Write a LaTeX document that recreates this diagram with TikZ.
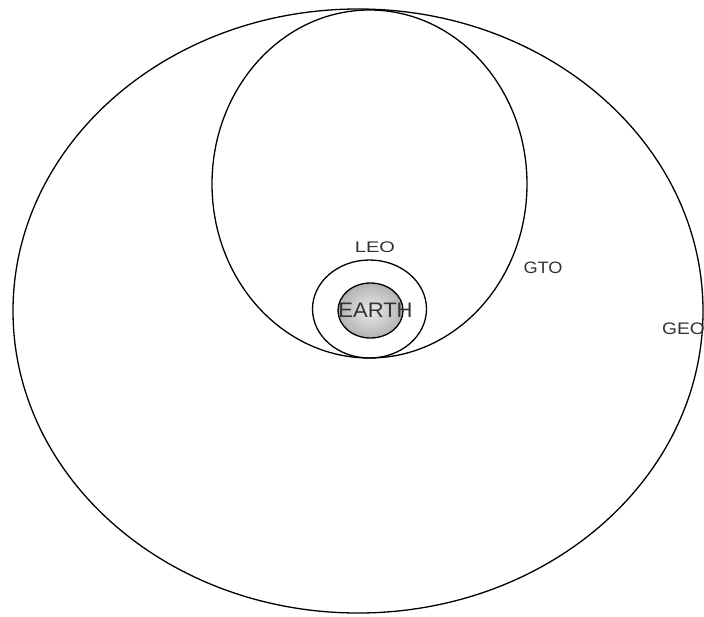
\documentclass[tikz,border=0pt]{standalone}
\usepackage{fontspec}
\setmainfont{Liberation Sans}
\usetikzlibrary{shapes.geometric}
\begin{document}
\begin{tikzpicture}[x=1pt,y=-1pt,
  orbit/.style={ellipse,draw=black,line width=1.3pt,inner sep=0pt,fill=none},
  lbl/.style={text=black!80,inner sep=0pt}]
\useasboundingbox (0,0) rectangle (704,616);
\clip (0,0) rectangle (704,616);
\fill[white] (0,0) rectangle (704,616);
\node[orbit,minimum width=690pt,minimum height=604pt] (geo) at (358,311) {};
\node[orbit,minimum width=315pt,minimum height=348pt] (gto) at (369.5,184) {};
\node[orbit,minimum width=114pt,minimum height=98pt] (leo) at (369.5,309) {};
\node[orbit,minimum width=65pt,minimum height=55pt,inner color=black!8,outer color=black!30] (earth) at (370.5,310.5) {};
\node[lbl,font=\fontsize{21}{21}\selectfont,xscale=1.05] (earthlbl) at (375.5,310.5) {EARTH};
\node[lbl,font=\fontsize{15.4}{15.4}\selectfont,xscale=1.3] (leolbl) at (375,247.5) {LEO};
\node[lbl,font=\fontsize{16.5}{16.5}\selectfont,xscale=1.1] (gtolbl) at (543,268) {GTO};
\node[lbl,font=\fontsize{16.7}{16.7}\selectfont,xscale=1.15,anchor=west] (geolbl) at (662,329) {GEO};
\end{tikzpicture}
\end{document}
